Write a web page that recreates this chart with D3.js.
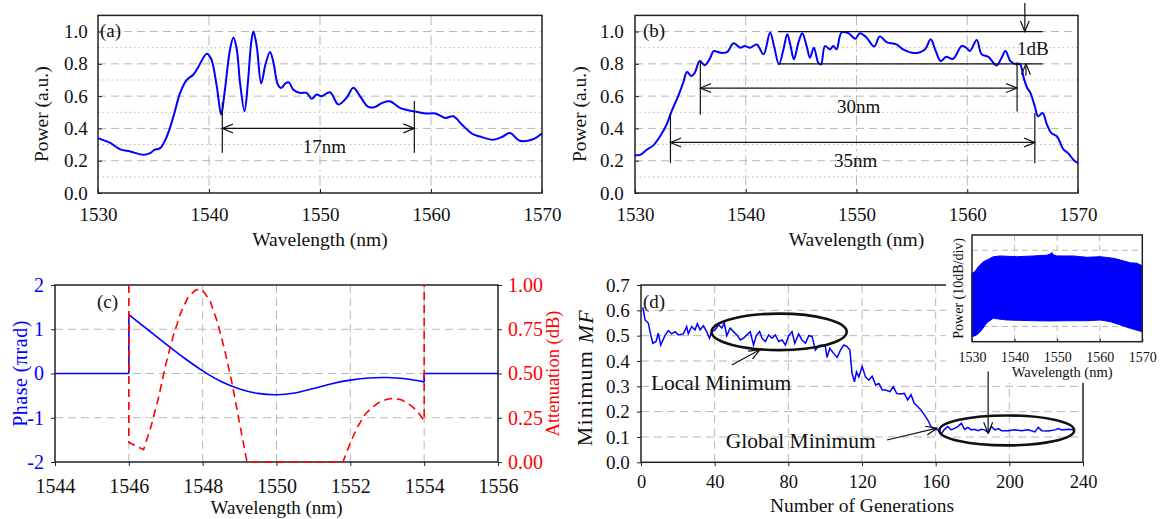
<!DOCTYPE html>
<html><head><meta charset="utf-8">
<script src="https://cdn.jsdelivr.net/npm/d3@7"></script>
<style>body{margin:0;background:#fff} text{font-family:"Liberation Serif","Times New Roman",serif}</style>
</head><body><svg id="chart" width="1162" height="519"></svg>
<script>
// ---------------- DATA ----------------
const specTicksX = [1530, 1540, 1550, 1560, 1570];
const specTicksY = [0, 0.2, 0.4, 0.6, 0.8, 1.0];
const specMinorY = [0.1, 0.3, 0.5, 0.7, 0.9];
const specGridX = [1540, 1550, 1560];

// (a) initial spectrum [wavelength nm, normalized power]
const specA = [[1530,0.34],[1531.1,0.31],[1532.0,0.27],[1532.9,0.257],[1534.1,0.237],[1534.7,0.247],[1535.1,0.268],[1535.6,0.278],[1536.2,0.35],[1536.8,0.475],[1537.4,0.62],[1538.0,0.70],[1538.6,0.734],[1539.0,0.776],[1539.8,0.863],[1540.2,0.83],[1540.7,0.66],[1541.1,0.485],[1541.4,0.62],[1541.9,0.89],[1542.2,0.963],[1542.5,0.89],[1542.8,0.68],[1543.2,0.506],[1543.5,0.68],[1543.8,0.93],[1544.0,1.0],[1544.3,0.91],[1544.7,0.68],[1545.1,0.80],[1545.5,0.873],[1545.8,0.81],[1546.2,0.672],[1546.5,0.65],[1546.9,0.68],[1547.2,0.685],[1547.6,0.64],[1548.2,0.62],[1548.8,0.62],[1549.25,0.583],[1549.7,0.61],[1550.15,0.60],[1550.9,0.624],[1551.65,0.548],[1552.4,0.59],[1553.0,0.652],[1553.6,0.60],[1554.35,0.533],[1554.95,0.533],[1555.6,0.558],[1556.3,0.568],[1557.2,0.527],[1558.4,0.506],[1559.6,0.492],[1560.4,0.492],[1561.3,0.465],[1562.0,0.475],[1562.8,0.423],[1563.7,0.367],[1564.4,0.35],[1565.6,0.33],[1566.4,0.347],[1567.1,0.371],[1568.0,0.324],[1569.2,0.333],[1570,0.37]];

// (b) optimized spectrum
const specB = [[1530,0.236],[1530.45,0.236],[1531.05,0.268],[1531.65,0.295],[1532.25,0.35],[1532.85,0.423],[1533.3,0.506],[1533.9,0.6],[1534.35,0.683],[1534.7,0.749],[1535.1,0.724],[1535.4,0.745],[1535.85,0.817],[1536.3,0.792],[1536.8,0.838],[1537.1,0.879],[1537.7,0.869],[1538.3,0.872],[1538.9,0.927],[1539.5,0.90],[1539.9,0.91],[1540.4,0.90],[1541.0,0.92],[1541.6,0.859],[1542.2,0.994],[1542.55,0.91],[1543.0,0.797],[1543.4,0.889],[1543.75,0.983],[1544.05,0.91],[1544.35,0.828],[1544.75,0.93],[1545.1,0.99],[1545.5,0.91],[1545.8,0.838],[1546.15,0.90],[1546.55,0.807],[1546.8,0.797],[1547.15,0.91],[1547.6,0.89],[1547.9,0.91],[1548.2,0.89],[1548.65,0.994],[1549.25,0.99],[1549.9,0.956],[1550.3,0.99],[1550.9,0.963],[1551.6,0.907],[1552.1,0.97],[1552.7,0.935],[1553.6,0.92],[1554.2,0.89],[1555.0,0.869],[1555.6,0.869],[1556.2,0.89],[1556.7,0.952],[1557.1,0.89],[1557.6,0.817],[1558.1,0.844],[1558.7,0.83],[1559.5,0.91],[1559.9,0.90],[1560.25,0.88],[1560.85,0.948],[1561.3,0.859],[1561.9,0.844],[1562.65,0.79],[1563.1,0.838],[1563.45,0.879],[1563.9,0.817],[1564.45,0.797],[1564.75,0.80],[1565.1,0.713],[1565.4,0.652],[1565.7,0.62],[1566.1,0.537],[1566.4,0.475],[1566.8,0.496],[1567.2,0.423],[1567.6,0.371],[1568.1,0.35],[1568.7,0.268],[1569.1,0.247],[1569.6,0.205],[1570,0.185]];

// (c) filter phase (pi rad) and attenuation (dB)
const cTicksX = [1544, 1546, 1548, 1550, 1552, 1554, 1556];
const cTicksPhase = [-2, -1, 0, 1, 2];
const cTicksAtt = [0, 0.25, 0.5, 0.75, 1.0];
const phase = [[1544,0],[1546,0],[1546,1.33],[1546.5,1.0],[1547,0.67],[1547.5,0.35],[1548,0.06],[1548.5,-0.18],[1549,-0.35],[1549.5,-0.45],[1550,-0.48],[1550.5,-0.44],[1551,-0.34],[1551.5,-0.23],[1552,-0.15],[1552.5,-0.1],[1553,-0.09],[1553.5,-0.12],[1554,-0.19],[1554,0],[1556,0]];
const attenuation = [[1546,1.0],[1546,0.11],[1546.4,0.07],[1546.6,0.20],[1546.8,0.36],[1547.0,0.55],[1547.2,0.71],[1547.4,0.84],[1547.6,0.93],[1547.8,0.97],[1547.9,0.976],[1548.0,0.97],[1548.2,0.91],[1548.4,0.79],[1548.6,0.63],[1548.8,0.44],[1549.0,0.22],[1549.2,0],[1551.8,0],[1552.0,0.11],[1552.2,0.2],[1552.4,0.27],[1552.6,0.31],[1552.8,0.34],[1553.0,0.355],[1553.2,0.36],[1553.4,0.35],[1553.6,0.325],[1553.8,0.29],[1554.0,0.235],[1554,1.0]];

// (d) minimum merit function vs generation
const dTicksX = [0, 40, 80, 120, 160, 200, 240];
const dTicksY = [0, 0.1, 0.2, 0.3, 0.4, 0.5, 0.6, 0.7];
const minMF = [[1,0.612],[2.2,0.562],[4,0.549],[4.9,0.516],[6.4,0.47],[8.2,0.477],[9.4,0.51],[10.7,0.463],[13,0.5],[14.8,0.52],[16.6,0.507],[18.5,0.516],[20.3,0.503],[23,0.507],[24.8,0.536],[25.7,0.507],[27.5,0.536],[29.3,0.523],[30.6,0.547],[32.1,0.523],[33.9,0.539],[35.7,0.516],[37.2,0.49],[38.4,0.516],[40.2,0.523],[42.1,0.543],[43.9,0.53],[45.2,0.55],[46.6,0.5],[48.4,0.53],[50.2,0.516],[52.1,0.503],[53.9,0.483],[55.7,0.49],[57.5,0.503],[59.3,0.516],[61.1,0.463],[62.6,0.5],[64.4,0.516],[65.7,0.49],[67.5,0.477],[69.3,0.503],[71.1,0.49],[72.9,0.503],[74.8,0.477],[76.6,0.483],[78.4,0.463],[80.2,0.5],[82,0.516],[83.5,0.47],[85.6,0.507],[87.4,0.483],[89.3,0.47],[91.1,0.5],[92.9,0.497],[94.7,0.443],[96.5,0.46],[98.3,0.463],[100.1,0.457],[101,0.414],[102.5,0.45],[104.6,0.43],[106.5,0.414],[108.3,0.443],[110.1,0.463],[111.9,0.457],[113.4,0.443],[114.6,0.351],[115.9,0.318],[117,0.357],[118.3,0.337],[120.1,0.378],[121.9,0.337],[123.7,0.324],[125.5,0.34],[127.4,0.305],[129.2,0.311],[131,0.285],[132.8,0.285],[135.2,0.279],[137,0.298],[138.8,0.272],[140.6,0.27],[143,0.272],[144.8,0.246],[146.6,0.267],[148.4,0.233],[150.2,0.22],[152.1,0.206],[153.9,0.187],[155.7,0.167],[157.5,0.141],[159.3,0.13],[161.1,0.128],[163,0.112],[164.8,0.13],[166.6,0.141],[168.4,0.128],[170.2,0.134],[172.1,0.141],[173.9,0.154],[175.7,0.13],[177.5,0.138],[179.3,0.128],[181.1,0.13],[182.9,0.125],[184.8,0.13],[186.6,0.128],[188.7,0.117],[190.3,0.141],[192.1,0.128],[194,0.133],[195.8,0.125],[199.4,0.125],[203,0.128],[206.7,0.125],[210.3,0.128],[213.9,0.12],[215.7,0.138],[217.6,0.125],[221.2,0.124],[224.8,0.128],[226.6,0.133],[228.4,0.128],[232.1,0.13],[235.3,0.128]];

// inset: output spectrum envelope (dB)
const insetTicksX = [1530, 1540, 1550, 1560, 1570];
const insetGridY = [-60, -50, -40];
const insetUpper = [[1530,-46.05],[1530.7,-45.6],[1531.5,-44.3],[1532.7,-43.0],[1533.8,-42.4],[1535.0,-41.7],[1536.6,-41.5],[1540.5,-41.7],[1544.4,-41.5],[1547.6,-41.3],[1548.4,-41.0],[1548.75,-40.6],[1549.1,-41.2],[1549.9,-41.5],[1552.3,-41.5],[1553.8,-41.5],[1557.0,-41.85],[1560.1,-41.7],[1563.2,-42.1],[1564.8,-42.55],[1567.2,-43.3],[1568.75,-43.4],[1570,-44.1]];
const insetLower = [[1530,-62.7],[1531.1,-62.25],[1532.3,-60.9],[1533.5,-59.0],[1535.0,-57.85],[1536.6,-58.1],[1538.2,-58.3],[1544.4,-58.5],[1548.4,-58.55],[1552.3,-58.5],[1557.0,-58.5],[1560.1,-58.3],[1562.5,-58.75],[1564.8,-59.6],[1567.2,-60.5],[1570,-61.4]];

// ---------------- DRAW ----------------
const FONT = "Liberation Serif, Times New Roman, serif";
const GRID = "#b8b8b8";
const BLUE = "#0000ff", RED = "#ff0000";
const svg = d3.select("#chart");
svg.append("rect").attr("width", 1162).attr("height", 519).attr("fill", "#fff");

const defs = svg.append("defs");
defs.append("marker").attr("id", "arr").attr("viewBox", "0 -6 12 12")
  .attr("refX", 11).attr("refY", 0).attr("markerWidth", 12).attr("markerHeight", 12)
  .attr("markerUnits", "userSpaceOnUse").attr("orient", "auto-start-reverse")
  .append("path").attr("d", "M0,-4.5L11,0L0,4.5").attr("fill", "none")
  .attr("stroke", "#111").attr("stroke-width", 1.2);

function hGrid(g, vals, x0, x1, y, dash) {
  g.selectAll(null).data(vals).join("line")
    .attr("x1", x0).attr("x2", x1).attr("y1", d => y(d)).attr("y2", d => y(d))
    .attr("stroke", GRID).attr("stroke-width", 1).attr("stroke-dasharray", dash);
}
function vGrid(g, vals, y0, y1, x, dash) {
  g.selectAll(null).data(vals).join("line")
    .attr("y1", y0).attr("y2", y1).attr("x1", d => x(d)).attr("x2", d => x(d))
    .attr("stroke", GRID).attr("stroke-width", 1).attr("stroke-dasharray", dash);
}
function styleAxis(sel, size, color) {
  sel.attr("font-family", FONT).attr("font-size", size);
  sel.select(".domain").remove();
  sel.selectAll(".tick line").attr("stroke", "#222");
  sel.selectAll(".tick text").attr("fill", color || "#111");
}
function box(g, x0, y0, x1, y1) {
  g.append("rect").attr("x", x0).attr("y", y0).attr("width", x1 - x0).attr("height", y1 - y0)
    .attr("fill", "none").attr("stroke", "#222").attr("stroke-width", 1.5);
}
function txt(g, x, y, s, size, opts = {}) {
  const t = g.append("text").attr("x", x).attr("y", y).attr("font-size", size)
    .attr("font-family", FONT).attr("fill", opts.fill || "#111")
    .attr("text-anchor", opts.anchor || "start").text(s);
  if (opts.rotate) t.attr("transform", `rotate(-90,${x},${y})`).attr("dominant-baseline", "central");
  if (opts.spacing) t.attr("letter-spacing", opts.spacing);
  return t;
}

// ----- spectrum panels (a) and (b)
function specPanel(x0, x1, tickX, data, tag, tagX, yTitleX) {
  const top = 15.4, bot = 193;
  const x = d3.scaleLinear([1530, 1570], [x0, x1]);
  const y = d3.scaleLinear([0, 1.1], [bot, top]);
  const g = svg.append("g");
  hGrid(g, specMinorY, x0, x1, y, "1.5,3");
  hGrid(g, specTicksY.slice(1), x0, x1, y, "8,5");
  vGrid(g, specGridX, top, bot, x, "10,4,2,4");
  g.append("g").attr("transform", `translate(0,${bot})`)
    .call(d3.axisBottom(x).tickValues(specTicksX).tickFormat(d3.format("d")).tickSizeInner(-4).tickSizeOuter(0).tickPadding(15))
    .call(s => styleAxis(s, 19));
  g.append("g").attr("transform", `translate(${x0},0)`)
    .call(d3.axisLeft(y).tickValues(specTicksY).tickFormat(d3.format(".1f")).tickSizeInner(-4).tickSizeOuter(0))
    .call(s => { styleAxis(s, 19); s.selectAll(".tick text").attr("text-anchor", "start").attr("x", tickX - x0); });
  box(g, x0, top, x1, bot);
  g.append("path").datum(data)
    .attr("d", d3.line().x(d => x(d[0])).y(d => y(d[1])).curve(d3.curveCatmullRom.alpha(0.5)))
    .attr("fill", "none").attr("stroke", BLUE).attr("stroke-width", 2);
  txt(g, tagX, 37, tag, 19);
  txt(g, yTitleX, (top + bot) / 2 + 10, "Power (a.u.)", 19.5, { anchor: "middle", rotate: true });
  txt(g, (x0 + x1) / 2 + 0, 246, "Wavelength (nm)", 19.5, { anchor: "middle" });
  return { g, x, y };
}
function line(p, xa, ya, xb, yb, arrowStart, arrowEnd) {
  const l = p.g.append("line").attr("x1", xa).attr("y1", ya).attr("x2", xb).attr("y2", yb)
    .attr("stroke", "#111").attr("stroke-width", 1.2);
  if (arrowStart) l.attr("marker-start", "url(#arr)");
  if (arrowEnd) l.attr("marker-end", "url(#arr)");
  return l;
}
function dim(p, xa, xb, yv, bars, label, dx) {
  line(p, p.x(xa), p.y(yv), p.x(xb), p.y(yv), true, true);
  bars.forEach(b => line(p, p.x(b[0]), p.y(b[1]), p.x(b[0]), p.y(b[2])));
  txt(p.g, (p.x(xa) + p.x(xb)) / 2 + (dx || 0), p.y(yv) + 25, label, 19, { anchor: "middle" });
}

const pa = specPanel(98, 542, 64, specA, "(a)", 100, 42);
dim(pa, 1541.2, 1558.5, 0.40, [[1541.2, 0.25, 0.56], [1558.5, 0.25, 0.57]], "17nm", 6);

const pb = specPanel(635, 1078, 600, specB, "(b)", 643, 580);
line(pb, pb.x(1542.9), pb.y(1.0), pb.x(1566.8), pb.y(1.0));
line(pb, pb.x(1542.9), pb.y(0.8), pb.x(1566.8), pb.y(0.8));
line(pb, pb.x(1565.2), 3, pb.x(1565.2), pb.y(1.0), false, true);
line(pb, pb.x(1565.3), pb.y(0.8) + 12, pb.x(1565.3), pb.y(0.8), false, true);
txt(pb.g, pb.x(1564.5), (pb.y(1.0) + pb.y(0.8)) / 2 + 7, "1dB", 19);
dim(pb, 1535.9, 1564.5, 0.65, [[1535.9, 0.485, 0.82], [1564.5, 0.505, 0.81]], "30nm");
dim(pb, 1533.2, 1566.1, 0.313, [[1533.2, 0.185, 0.496], [1566.1, 0.185, 0.496]], "35nm", 3);

// ----- panel (c)
(function () {
  const x0 = 55, x1 = 498, top = 285, bot = 462;
  const x = d3.scaleLinear([1544, 1556], [x0, x1]);
  const yL = d3.scaleLinear([-2, 2], [bot, top]);
  const yR = d3.scaleLinear([0, 1], [bot, top]);
  const g = svg.append("g");
  vGrid(g, cTicksX.slice(1, -1), top, bot, x, "8,5");
  hGrid(g, cTicksPhase.slice(1, -1), x0, x1, yL, "8,5");
  g.append("g").attr("transform", `translate(0,${bot})`)
    .call(d3.axisBottom(x).tickValues(cTicksX).tickFormat(d3.format("d")).tickSizeInner(4).tickSizeOuter(0).tickPadding(13))
    .call(s => styleAxis(s, 20));
  g.append("g").attr("transform", `translate(${x0},0)`)
    .call(d3.axisLeft(yL).tickValues(cTicksPhase).tickFormat(d => String(d)).tickSizeInner(4).tickSizeOuter(0).tickPadding(7))
    .call(s => styleAxis(s, 20, BLUE));
  g.append("g").attr("transform", `translate(${x1},0)`)
    .call(d3.axisRight(yR).tickValues(cTicksAtt).tickFormat(d3.format(".2f")).tickSizeInner(4).tickSizeOuter(0).tickPadding(6))
    .call(s => styleAxis(s, 20, RED));
  box(g, x0, top, x1, bot);
  // phase drawn piecewise: vertical jumps straight, smooth elsewhere
  const runs = [[phase[0]]];
  for (let i = 1; i < phase.length; i++) {
    if (phase[i][0] === phase[i - 1][0]) {
      g.append("line").attr("x1", x(phase[i][0])).attr("x2", x(phase[i][0]))
        .attr("y1", yL(phase[i - 1][1])).attr("y2", yL(phase[i][1]))
        .attr("stroke", BLUE).attr("stroke-width", 1.6);
      runs.push([phase[i]]);
    } else runs[runs.length - 1].push(phase[i]);
  }
  runs.forEach(r => g.append("path").datum(r)
    .attr("d", d3.line().x(d => x(d[0])).y(d => yL(d[1])).curve(d3.curveCatmullRom.alpha(0.5)))
    .attr("fill", "none").attr("stroke", BLUE).attr("stroke-width", 1.6));
  g.append("path").datum(attenuation)
    .attr("d", d3.line().x(d => x(d[0])).y(d => yR(d[1])))
    .attr("fill", "none").attr("stroke", RED).attr("stroke-width", 1.6).attr("stroke-dasharray", "8,5");
  txt(g, x0 + 42, top + 23, "(c)", 19);
  txt(g, 20, (top + bot) / 2, "Phase (\u03c0rad)", 20, { anchor: "middle", rotate: true, fill: BLUE, spacing: 0.5 });
  txt(g, 553, (top + bot) / 2, "Attenuation (dB)", 18.5, { anchor: "middle", rotate: true, fill: RED });
  txt(g, (x0 + x1) / 2, 514, "Wavelength (nm)", 19, { anchor: "middle" });
})();

// ----- panel (d)
(function () {
  const x0 = 641, x1 = 1083, top = 285, bot = 462.3;
  const x = d3.scaleLinear([0, 240], [x0, x1]);
  const y = d3.scaleLinear([0, 0.7], [bot, top]);
  const g = svg.append("g");
  vGrid(g, dTicksX.slice(1, -1), top, bot, x, "8,5");
  hGrid(g, dTicksY.slice(1, -1), x0, x1, y, "8,5");
  g.append("g").attr("transform", `translate(0,${bot})`)
    .call(d3.axisBottom(x).tickValues(dTicksX).tickFormat(d3.format("d")).tickSizeInner(4).tickSizeOuter(0).tickPadding(9))
    .call(s => styleAxis(s, 18.5));
  g.append("g").attr("transform", `translate(${x0},0)`)
    .call(d3.axisLeft(y).tickValues(dTicksY).tickFormat(d3.format(".1f")).tickSizeInner(4).tickSizeOuter(0))
    .call(s => { styleAxis(s, 19); s.selectAll(".tick text").attr("text-anchor", "start").attr("x", 606 - x0); });
  box(g, x0, top, x1, bot);
  g.append("path").datum(minMF)
    .attr("d", d3.line().x(d => x(d[0])).y(d => y(d[1])))
    .attr("fill", "none").attr("stroke", BLUE).attr("stroke-width", 1.5);
  const ell = (cx, cy, rx, ry) => g.append("ellipse")
    .attr("cx", x(cx)).attr("cy", y(cy)).attr("rx", x(cx + rx) - x(cx)).attr("ry", y(cy) - y(cy + ry))
    .attr("fill", "none").attr("stroke", "#111").attr("stroke-width", 2.6);
  ell(75, 0.515, 36.7, 0.072);
  ell(198.6, 0.126, 36.6, 0.059);
  const p = { g };
  line(p, x(49.3), y(0.384), x(64.6), y(0.444), false, true);
  line(p, x(133.6), y(0.088), x(160.7), y(0.135), false, true);
  txt(g, x(5.4), y(0.285), "Local Minimum", 21.5);
  txt(g, x(46), y(0.056), "Global Minimum", 21.5);
  txt(g, x0 + 2, top + 23, "(d)", 19);
  const yt = txt(g, 585, (top + bot) / 2 + 4, "Minimum ", 22, { anchor: "middle", rotate: true, spacing: 1.2 });
  yt.append("tspan").attr("font-style", "italic").text("MF");
  txt(g, (x0 + x1) / 2, 512, "Number of Generations", 19.5, { anchor: "middle" });

  // ----- inset
  const ix0 = 972, ix1 = 1142.3, itop = 235, ibot = 341.7;
  const xi = d3.scaleLinear([1530, 1570], [ix0, ix1]);
  const yi = d3.scaleLinear([-64, -36], [ibot, itop]);
  const gi = svg.append("g");
  gi.append("rect").attr("x", 946).attr("y", 229).attr("width", 210).attr("height", 154).attr("fill", "#fff");
  vGrid(gi, insetTicksX.slice(1, -1), itop, ibot, xi, "6,4");
  hGrid(gi, insetGridY, ix0, ix1, yi, "6,4");
  const poly = insetUpper.concat(insetLower.slice().reverse());
  gi.append("path").attr("d", d3.line().x(d => xi(d[0])).y(d => yi(d[1]))(poly) + "Z")
    .attr("fill", BLUE).attr("stroke", BLUE).attr("stroke-width", 1);
  gi.append("g").attr("transform", `translate(0,${ibot})`)
    .call(d3.axisBottom(xi).tickValues(insetTicksX).tickFormat(d3.format("d")).tickSizeInner(-3).tickSizeOuter(0).tickPadding(10))
    .call(s => styleAxis(s, 14));
  box(gi, ix0, itop, ix1, ibot);
  txt(gi, 959, (itop + ibot) / 2, "Power (10dB/div)", 14, { anchor: "middle", rotate: true });
  txt(gi, (ix0 + ix1) / 2 + 5, 377, "Wavelength (nm)", 14.5, { anchor: "middle" });
  line({ g: svg }, x(188.5), y(0.358), x(188.5), y(0.115), false, true);
})();
</script></body></html>
